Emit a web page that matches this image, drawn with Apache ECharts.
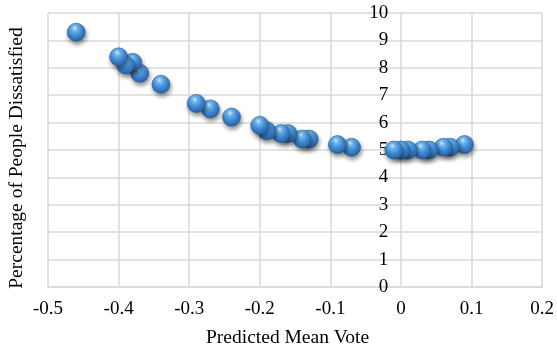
<!DOCTYPE html>
<html>
<head>
<meta charset="utf-8">
<script src="https://cdn.jsdelivr.net/npm/echarts@6/dist/echarts.min.js"></script>
<style>
html,body{margin:0;padding:0;background:#fff;}
#chart{width:557px;height:351px;}
</style>
</head>
<body>
<div id="chart"></div>
<script>
// Data
var pmv = [-0.46, -0.40, -0.39, -0.38, -0.37, -0.34, -0.29, -0.27, -0.24, -0.20, -0.19, -0.17, -0.16, -0.14, -0.13, -0.09, -0.07, -0.01, 0.00, 0.01, 0.03, 0.04, 0.06, 0.07, 0.09];
var ppd = [9.3, 8.4, 8.1, 8.2, 7.8, 7.4, 6.7, 6.5, 6.2, 5.9, 5.7, 5.6, 5.6, 5.4, 5.4, 5.2, 5.1, 5.0, 5.0, 5.0, 5.0, 5.0, 5.1, 5.1, 5.2];
var xTitle = 'Predicted Mean Vote';
var yTitle = 'Percentage of People Dissatisfied';
var xMin = -0.5, xMax = 0.2;

var points = [];
for (var i = pmv.length - 1; i >= 0; i--) points.push([pmv[i], ppd[i]]);

var gridLeft = 48, gridRight = 13;
var plotW = 557 - gridLeft - gridRight;
// y axis crosses the x axis at 0: shift it inward from the left edge
var yAxisOffset = -plotW * (0 - xMin) / (xMax - xMin);

var font = 'Liberation Serif';
var chart = echarts.init(document.getElementById('chart'), null, {renderer: 'canvas'});
chart.setOption({
  animation: false,
  backgroundColor: '#ffffff',
  grid: {left: gridLeft, right: gridRight, top: 13, bottom: 64, containLabel: false},
  xAxis: {
    type: 'value', min: xMin, max: xMax, interval: 0.1,
    axisLine: {show: true, onZero: false, lineStyle: {color: '#d9d9d9', width: 1.5}},
    axisTick: {show: false},
    splitLine: {show: true, lineStyle: {color: '#d9d9d9', width: 1.5}},
    axisLabel: {
      color: '#000', fontFamily: font, fontSize: 19, margin: 13,
      formatter: function (v) { return String(Math.round(v * 10) / 10); }
    }
  },
  yAxis: {
    type: 'value', min: 0, max: 10, interval: 1,
    position: 'left', offset: yAxisOffset,
    axisLine: {show: false, onZero: false},
    axisTick: {show: false},
    splitLine: {show: true, lineStyle: {color: '#d9d9d9', width: 1.5}},
    axisLabel: {color: '#000', fontFamily: font, fontSize: 19, margin: 14}
  },
  graphic: [
    {type: 'text', left: 206, top: 328, style: {text: xTitle, fill: '#000', font: '19.5px "Liberation Serif"'}},
    {type: 'text', x: 7, y: 158, rotation: Math.PI / 2,
     style: {text: yTitle, fill: '#000', font: '19.5px "Liberation Serif"', align: 'center', verticalAlign: 'top'}}
  ],
  series: [{
    type: 'scatter',
    data: points,
    symbol: 'circle',
    symbolSize: 18,
    itemStyle: {
      color: {
        type: 'radial', x: 0.42, y: 0.28, r: 0.75,
        colorStops: [
          {offset: 0, color: '#dff3ff'},
          {offset: 0.2, color: '#72b9f0'},
          {offset: 0.55, color: '#3e8ad6'},
          {offset: 0.88, color: '#2b69ad'},
          {offset: 1, color: '#22538a'}
        ]
      },
      borderColor: '#2a5a8a', borderWidth: 0.6,
      shadowBlur: 4, shadowColor: 'rgba(0,0,0,0.45)', shadowOffsetX: 1, shadowOffsetY: 3,
      opacity: 1
    }
  }]
});
</script>
</body>
</html>
